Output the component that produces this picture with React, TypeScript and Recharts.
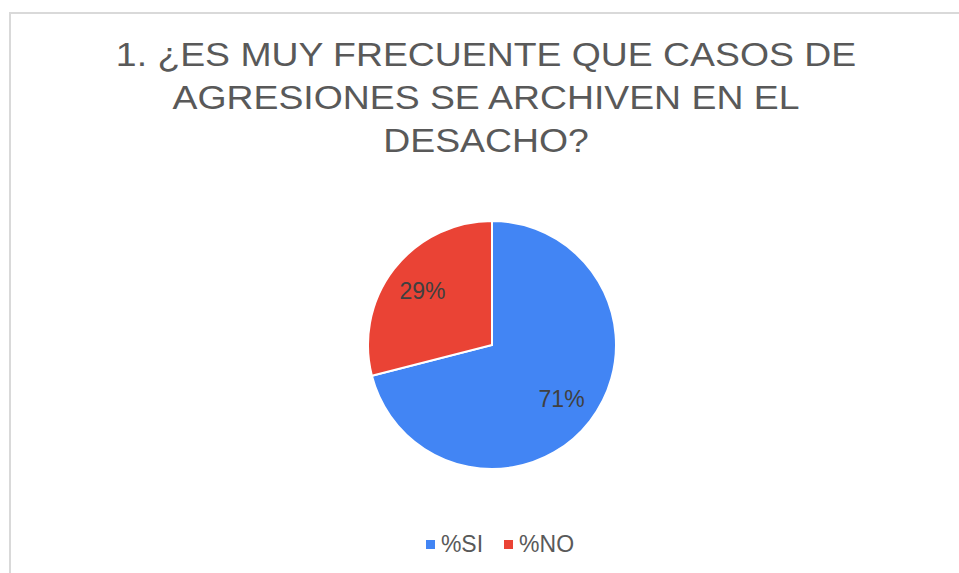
import { PieChart, Pie, Cell, Legend } from "recharts";

const categories = ["%SI", "%NO"];
const values = [71, 29];
const colors = ["#4285F4", "#EA4335"];
const titleLines = [
  "1. ¿ES MUY FRECUENTE QUE CASOS DE",
  "AGRESIONES SE ARCHIVEN EN EL",
  "DESACHO?",
];

const data = categories.map((name, i) => ({ name, value: values[i] }));

const FONT = "'Liberation Sans', Arial, sans-serif";
const RADIAN = Math.PI / 180;

const renderLabel = (props: any) => {
  const { cx, cy, midAngle, outerRadius, value } = props;
  const r = outerRadius * 0.71;
  const x = cx + r * Math.cos(-midAngle * RADIAN);
  const y = cy + r * Math.sin(-midAngle * RADIAN);
  return (
    <text
      x={x}
      y={y}
      fill="#404040"
      fontSize={23}
      fontFamily={FONT}
      textAnchor="middle"
      dominantBaseline="central"
    >
      {value}%
    </text>
  );
};

const renderLegend = () => (
  <div
    style={{
      display: "flex",
      justifyContent: "center",
      alignItems: "center",
      fontFamily: FONT,
      fontSize: 23,
      color: "#595959",
    }}
  >
    {categories.map((c, i) => (
      <div key={c} style={{ display: "flex", alignItems: "center", marginRight: i === 0 ? 21 : 0 }}>
        <span
          style={{
            display: "inline-block",
            width: 9,
            height: 9,
            background: colors[i],
            marginRight: 6,
          }}
        />
        <span>{c}</span>
      </div>
    ))}
  </div>
);

export default function App() {
  return (
    <div
      style={{
        position: "absolute",
        left: 0,
        top: 0,
        width: 959,
        height: 573,
        background: "#fff",
        overflow: "hidden",
      }}
    >
      <div
        style={{
          position: "absolute",
          left: 9,
          top: 12,
          width: 980,
          height: 600,
          borderTop: "2px solid #d9d9d9",
          borderLeft: "2px solid #d9d9d9",
        }}
      />
      <div
        style={{
          position: "absolute",
          left: 0,
          top: 33,
          width: 972,
          textAlign: "center",
          fontFamily: FONT,
          fontSize: 33.5,
          lineHeight: "43px",
          color: "#595959",
          transform: "scaleX(1.115)",
          transformOrigin: "486px 0",
        }}
      >
        {titleLines.map((l) => (
          <div key={l}>{l}</div>
        ))}
      </div>
      <div style={{ position: "absolute", left: 0, top: 0 }}>
        <PieChart width={959} height={573} margin={{ top: 0, right: 0, bottom: 0, left: 0 }}>
          <Pie
            data={data}
            dataKey="value"
            nameKey="name"
            cx={492}
            cy={345}
            outerRadius={124}
            startAngle={90}
            endAngle={-270}
            stroke="#ffffff"
            strokeWidth={2}
            label={renderLabel}
            labelLine={false}
            isAnimationActive={false}
          >
            {data.map((d, i) => (
              <Cell key={d.name} fill={colors[i]} />
            ))}
          </Pie>
          <Legend
            content={renderLegend}
            wrapperStyle={{ left: 40, top: 531, width: 920 }}
          />
        </PieChart>
      </div>
    </div>
  );
}
